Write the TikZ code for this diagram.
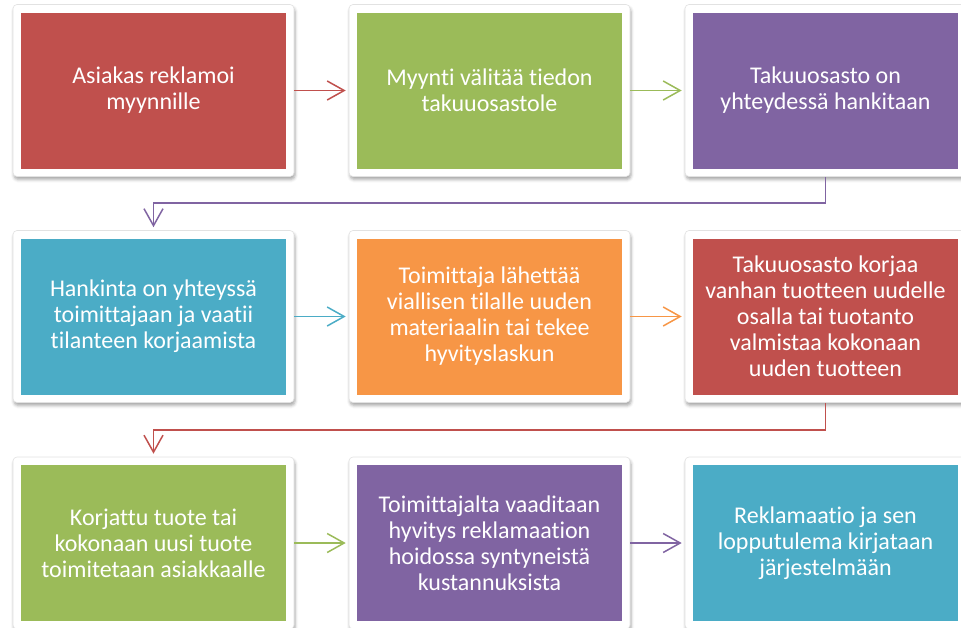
\documentclass[tikz,border=0pt]{standalone}
\usepackage{fontspec}
\setmainfont{Carlito}[Ligatures=NoCommon]
\usetikzlibrary{arrows.meta,shadows.blur}

\definecolor{cRed}{HTML}{C0504D}
\definecolor{cGreen}{HTML}{9BBB59}
\definecolor{cPurple}{HTML}{8064A2}
\definecolor{cTeal}{HTML}{4BACC6}
\definecolor{cOrange}{HTML}{F79646}
\definecolor{frameLine}{HTML}{E2E2E2}

\tikzset{
  stepbox/.style={
    draw=frameLine, line width=0.6pt, fill=white, rounded corners=4pt,
    minimum width=281pt, minimum height=172pt, inner sep=0pt,
    blur shadow={shadow xshift=1pt, shadow yshift=-3pt,
                 shadow blur radius=3pt, shadow opacity=35},
    path picture={
      \fill[#1, sharp corners]
        ([shift={(8pt,-8pt)}]path picture bounding box.north west)
        rectangle ([shift={(-8pt,8pt)}]path picture bounding box.south east);
    },
    text=white, align=center,
    font=\fontsize{24}{26}\selectfont
  },
  flow/.style={line width=1.5pt, draw=#1,
    -{Straight Barb[length=17pt,width=19pt,line width=1.5pt]},
    shorten >=3pt}
}

\begin{document}
\begin{tikzpicture}[x=1pt,y=-1pt]
\useasboundingbox (0,0) rectangle (961,627);

% row 1
\node[stepbox=cRed]    (b1) at (153.5,90.5) {Asiakas reklamoi\\myynnille};
\node[stepbox=cGreen]  (b2) at (489.5,90.5) {Myynti välitää tiedon\\takuuosastole};
\node[stepbox=cPurple] (b3) at (825.5,90.5) {Takuuosasto on\\yhteydessä hankitaan};

% row 2
\node[stepbox=cTeal]   (b4) at (153.5,316.5) {Hankinta on yhteyssä\\toimittajaan ja vaatii\\tilanteen korjaamista};
\node[stepbox=cOrange] (b5) at (489.5,316.5) {Toimittaja lähettää\\viallisen tilalle uuden\\materiaalin tai tekee\\hyvityslaskun};
\node[stepbox=cRed]    (b6) at (825.5,316.5) {Takuuosasto korjaa\\vanhan tuotteen uudelle\\osalla tai tuotanto\\valmistaa kokonaan\\uuden tuotteen};

% row 3
\node[stepbox=cGreen]  (b7) at (153.5,543) {Korjattu tuote tai\\kokonaan uusi tuote\\toimitetaan asiakkaalle};
\node[stepbox=cPurple] (b8) at (489.5,543) {Toimittajalta vaaditaan\\hyvitys reklamaation\\hoidossa syntyneistä\\kustannuksista};
\node[stepbox=cTeal]   (b9) at (825.5,543) {Reklamaatio ja sen\\lopputulema kirjataan\\järjestelmään};

% elbow turning points between rows
\coordinate (t1) at (153.5,203);
\coordinate (t2) at (153.5,430);

% connectors
\draw[flow=cRed]    (b1) -- (b2);
\draw[flow=cGreen]  (b2) -- (b3);
\draw[flow=cPurple] (b3.south) |- (t1) -- (b4.north);
\draw[flow=cTeal]   (b4) -- (b5);
\draw[flow=cOrange] (b5) -- (b6);
\draw[flow=cRed]    (b6.south) |- (t2) -- (b7.north);
\draw[flow=cGreen]  (b7) -- (b8);
\draw[flow=cPurple] (b8) -- (b9);
\end{tikzpicture}
\end{document}
